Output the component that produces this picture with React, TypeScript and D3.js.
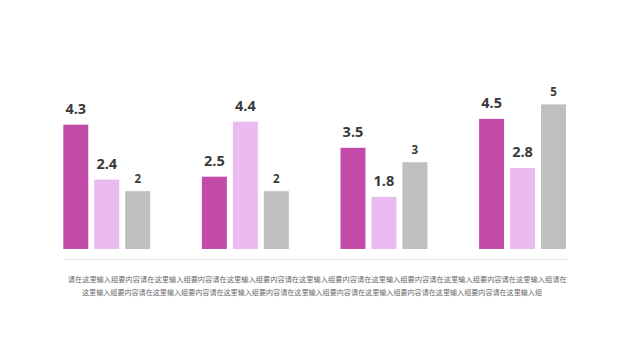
import React from "react";
import * as d3 from "d3";

const categories = ["类别1", "类别2", "类别3", "类别4"];
const seriesNames = ["系列1", "系列2", "系列3"];
const series1 = [4.3, 2.5, 3.5, 4.5];
const series2 = [2.4, 4.4, 1.8, 2.8];
const series3 = [2, 2, 3, 5];
const colors = ["#C34BAA", "#EBBAF0", "#BFBFBF"];
const captionLine1 = "请在这里输入组要内容请在这里输入组要内容请在这里输入组要内容请在这里输入组要内容请在这里输入组要内容请在这里输入组要内容请在这里输入组请在";
const captionLine2 = "这里输入组要内容请在这里输入组要内容请在这里输入组要内容请在这里输入组要内容请在这里输入组要内容请在这里输入组要内容请在这里输入组";

export default function App() {
  const W = 635, H = 361;
  const allSeries = [series1, series2, series3];
  const x0 = d3.scaleBand<string>().domain(categories).range([63.3, 566]).paddingInner(0.373).paddingOuter(0);
  const x1 = d3.scaleBand<string>().domain(seriesNames).range([0, x0.bandwidth()]).paddingInner(0.194).paddingOuter(0);
  const y = d3.scaleLinear().domain([0, 5]).range([249, 104.4]);

  return (
    <svg width={W} height={H} style={{ position: "absolute", left: 0, top: 0 }}>
      <rect width={W} height={H} fill="#ffffff" />
      <line x1={64} x2={568} y1={259.5} y2={259.5} stroke="#EEDDF0" strokeWidth={1} />
      {categories.map((c, ci) => (
        <g key={c} transform={`translate(${x0(c)},0)`}>
          {seriesNames.map((s, si) => {
            const v = allSeries[si][ci];
            const bx = x1(s)!;
            const bw = x1.bandwidth();
            const isInt = Number.isInteger(v);
            return (
              <g key={s}>
                <rect x={bx} y={y(v)} width={bw} height={y(0) - y(v)} fill={colors[si]} />
                <text
                  x={bx + bw / 2}
                  y={y(v) - (isInt ? 8 : 11)}
                  textAnchor="middle"
                  fontFamily="'Open Sans', 'DejaVu Sans', sans-serif"
                  fontWeight="bold"
                  fontSize={isInt ? 11.5 : 14.5}
                  fill="#3A3A3A"
                >
                  {String(v)}
                </text>
              </g>
            );
          })}
        </g>
      ))}
      <text x={67.7} y={282} fontFamily="'Noto Sans CJK SC', sans-serif" fontSize={7.2} fill="#6A6A6A" textLength={499} lengthAdjust="spacingAndGlyphs">
        {captionLine1}
      </text>
      <text x={82} y={295} fontFamily="'Noto Sans CJK SC', sans-serif" fontSize={7.2} fill="#6A6A6A" textLength={460} lengthAdjust="spacingAndGlyphs">
        {captionLine2}
      </text>
    </svg>
  );
}
